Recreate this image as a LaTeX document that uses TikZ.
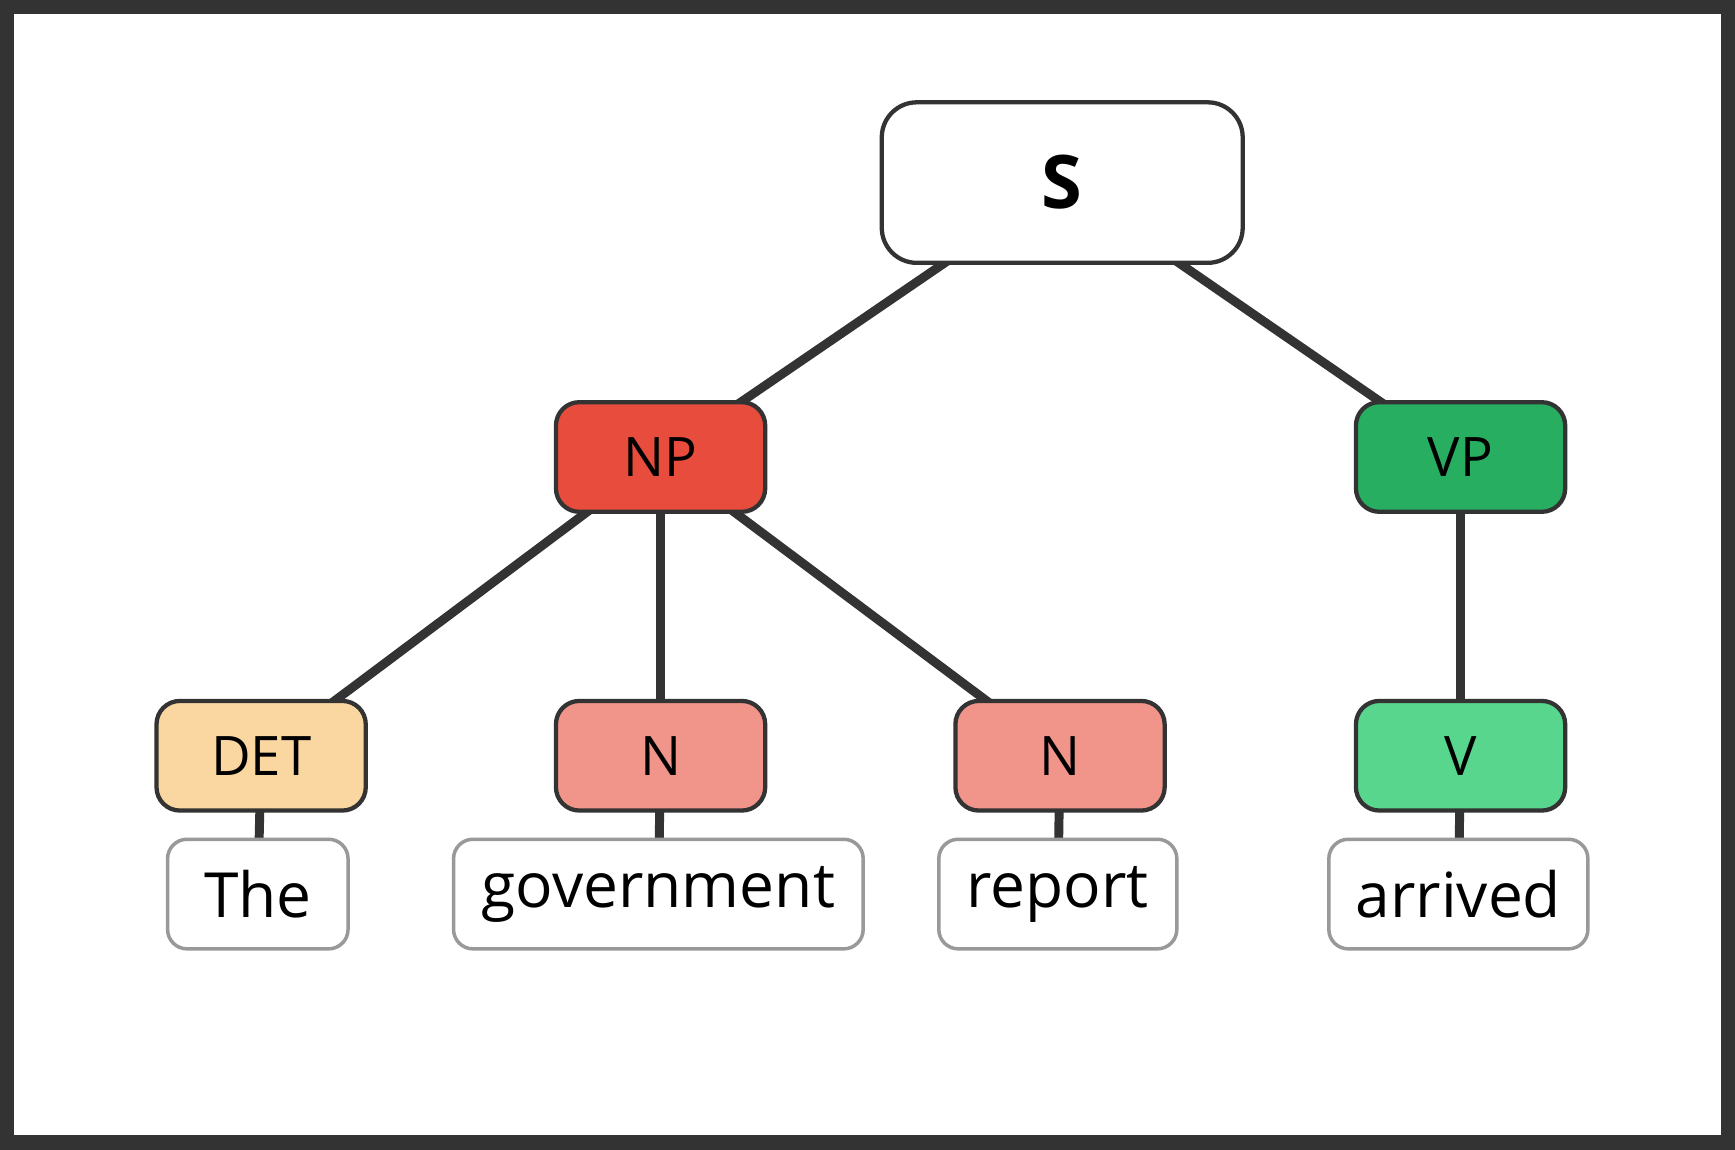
\documentclass[tikz,border=0pt]{standalone}
\usepackage{fontspec}
\setmainfont{Open Sans}
\usetikzlibrary{positioning,backgrounds}
\definecolor{frame}{HTML}{333333}
\definecolor{npred}{HTML}{E74C3C}
\definecolor{nred}{HTML}{F1948A}
\definecolor{vpgreen}{HTML}{27AE60}
\definecolor{vgreen}{HTML}{58D68D}
\definecolor{detorange}{HTML}{FAD7A0}
\definecolor{wordline}{HTML}{999999}
\tikzset{
  cat/.style={draw=frame,line width=1.1pt,rounded corners=6pt,minimum width=1.89cm,minimum height=0.99cm,font=\fontsize{14}{17}\selectfont},
  word/.style={draw=wordline,line width=0.9pt,fill=white,rounded corners=5pt,minimum height=0.99cm,inner sep=1pt,font=\fontsize{16}{19}\selectfont},
  branch/.style={draw=frame,line width=2.3pt}
}
\begin{document}
\begin{tikzpicture}[x=0.01cm,y=-0.01cm]
    % categories
    \node (S)   [cat,fill=white,minimum width=3.26cm,minimum height=1.45cm,rounded corners=9pt,font=\fontsize{19}{23}\selectfont\bfseries] at (960,165) {S};
    \node (NP)  [cat,fill=npred]     at (597,413)  {NP};
    \node (VP)  [cat,fill=vpgreen]   at (1320,413) {VP};
    \node (DET) [cat,fill=detorange] at (236,683)  {DET};
    \node (N1)  [cat,fill=nred]      at (597,683)  {N};
    \node (N2)  [cat,fill=nred]      at (958,683)  {N};
    \node (V)   [cat,fill=vgreen]    at (1320,683) {V};

    % words
    \node (w1) [word,minimum width=1.63cm] at (233,808)  {The};
    \node (w2) [word,minimum width=3.70cm] at (595,808)  {government};
    \node (w3) [word,minimum width=2.15cm] at (956,808)  {report};
    \node (w4) [word,minimum width=2.34cm] at (1318,808) {arrived};

    \begin{scope}[on background layer]
        \fill[frame] (0,0) rectangle (1568,1039);
        \fill[white] (13,13) rectangle (1555,1026);
        \draw[branch] (S.center)   -- (NP.center);
        \draw[branch] (S.center)   -- (VP.center);
        \draw[branch] (NP.center)  -- (DET.center);
        \draw[branch] (NP.center)  -- (N1.center);
        \draw[branch] (NP.center)  -- (N2.center);
        \draw[branch] (VP.center)  -- (V.center);
        \draw[branch] (DET.center) -- (w1.center);
        \draw[branch] (N1.center)  -- (w2.center);
        \draw[branch] (N2.center)  -- (w3.center);
        \draw[branch] (V.center)   -- (w4.center);
    \end{scope}
\end{tikzpicture}
\end{document}
